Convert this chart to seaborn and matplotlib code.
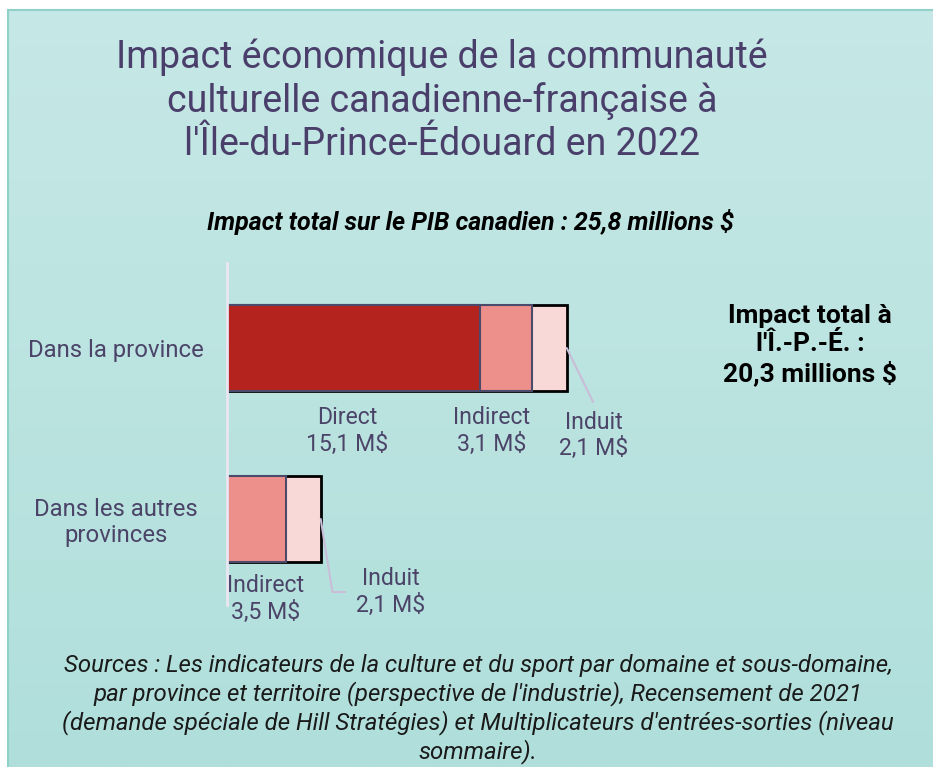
import matplotlib
matplotlib.use("Agg")
import matplotlib.pyplot as plt
import numpy as np
import seaborn as sns

# data
categories = ["Dans la province", "Dans les autres\nprovinces"]
direct = np.array([15.1, 0.0])
indirect = np.array([3.1, 3.5])
induit = np.array([2.1, 2.1])
direct_labels = ["15,1 M$", ""]
indirect_labels = ["3,1 M$", "3,5 M$"]
induit_labels = ["2,1 M$", "2,1 M$"]

title = ("Impact économique de la communauté\nculturelle canadienne-française à\n"
         "l'Île-du-Prince-Édouard en 2022")
subtitle = "Impact total sur le PIB canadien : 25,8 millions $"
side_note = "Impact total à\nl'Î.-P.-É. :\n20,3 millions $"
sources = ("Sources : Les indicateurs de la culture et du sport par domaine et sous-domaine,\n"
           "par province et territoire (perspective de l'industrie), Recensement de 2021\n"
           "(demande spéciale de Hill Stratégies) et Multiplicateurs d'entrées-sorties (niveau\n"
           "sommaire).")

c_direct = "#b5231e"
c_indirect = "#ed8f8a"
c_induit = "#f9d9d7"
c_edge = "#4b4a6b"
c_text = "#4b4468"

sns.set_theme(style="white")
plt.rcParams["font.family"] = ["Roboto", "DejaVu Sans"]

W, H = 933, 767
fig = plt.figure(figsize=(W / 100, H / 100), dpi=100)
fig.patch.set_facecolor("white")

# gradient background panel
bg = fig.add_axes([8 / W, 0, 1 - 8 / W, 1 - 10 / H])
grad = np.linspace(0, 1, 256).reshape(-1, 1)
top_rgb = np.array([198, 232, 230]) / 255
bot_rgb = np.array([176, 223, 219]) / 255
img = top_rgb + (bot_rgb - top_rgb) * grad[..., None]
bg.imshow(img, aspect="auto", extent=[0, 1, 0, 1])
bg.set_xticks([])
bg.set_yticks([])
for s in ["right", "bottom"]:
    bg.spines[s].set_visible(False)
for s in ["left", "top"]:
    bg.spines[s].set_color("#8fd0c9")
    bg.spines[s].set_linewidth(1.5)

# bar axes
ax = fig.add_axes([227 / W, (H - 604.5) / H, 420 / W, 342 / H])
ax.patch.set_alpha(0)

cum_direct = direct
cum_indirect = direct + indirect
cum_total = direct + indirect + induit

sns.barplot(x=cum_total, y=categories, orient="h", color=c_induit, saturation=1,
            edgecolor="black", linewidth=2, width=0.5, errorbar=None, ax=ax)
sns.barplot(x=cum_indirect, y=categories, orient="h", color=c_indirect, saturation=1,
            edgecolor=c_edge, linewidth=1.5, width=0.5, errorbar=None, ax=ax)
sns.barplot(x=cum_direct, y=categories, orient="h", color=c_direct, saturation=1,
            edgecolor=c_edge, linewidth=1.5, width=0.5, errorbar=None, ax=ax)

ax.set_xlim(0, 25.1)
ax.set_ylim(1.5, -0.5)
ax.set_xlabel("")
ax.set_ylabel("")
ax.set_xticks([])
for s in ["top", "right", "bottom"]:
    ax.spines[s].set_visible(False)
ax.spines["left"].set_color("#ebe6f2")
ax.spines["left"].set_linewidth(2)
ax.spines["left"].set_zorder(5)
ax.tick_params(axis="y", length=0, pad=80)
for lab in ax.get_yticklabels():
    lab.set_ha("center")
    lab.set_fontsize(17.2)
    lab.set_color(c_text)
    lab.set_linespacing(1.15)

lbl = dict(ha="center", va="center", fontsize=16.6, color=c_text, linespacing=1.18)

# segment labels
for i in range(len(categories)):
    if direct[i] > 0:
        ax.text(direct[i] / 2 - 0.35, i + 0.485, "Direct\n" + direct_labels[i], **lbl)
    ind_mid = cum_direct[i] + indirect[i] / 2
    shift = -0.85 if direct[i] > 0 else 0.57
    dy = 0.485 if direct[i] > 0 else 0.468
    ax.text(ind_mid + shift, i + dy, "Indirect\n" + indirect_labels[i], **lbl)

# induit labels with leader lines
end0 = cum_total[0]
ax.plot([end0, end0 + 1.58], [0, 0.316], color="#c9bdd8", lw=1.5, zorder=4)
ax.text(end0 + 1.6, 0.51, "Induit\n" + induit_labels[0], **lbl)
end1 = cum_total[1]
ax.plot([end1, end1 + 0.7, end1 + 1.47], [1, 1.427, 1.427], color="#c9bdd8", lw=1.5, zorder=4)
ax.text(end1 + 4.2, 1.427, "Induit\n" + induit_labels[1], **lbl)

# texts
fig.text(442 / W, 1 - 101 / H, title, ha="center", va="center", fontsize=27,
         color="#4a3f6b", linespacing=1.21)
fig.text(470 / W, 1 - 222 / H, subtitle, ha="center", va="center", fontsize=18,
         fontweight="bold", fontstyle="italic", color="black")
fig.text(810 / W, 1 - 345 / H, side_note, ha="center", va="center", fontsize=19,
         fontweight="bold", color="black", linespacing=1.2)
fig.text(478 / W, 1 - 709 / H, sources, ha="center", va="center", fontsize=17.3,
         fontstyle="italic", color="#1a1a1a", linespacing=1.2)

fig.savefig("out.png", dpi=100)
